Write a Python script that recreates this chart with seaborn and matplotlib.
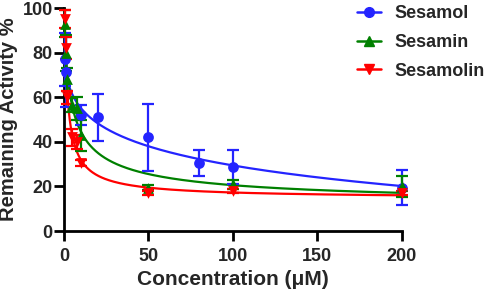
import numpy as np
import pandas as pd
import matplotlib
matplotlib.use("Agg")
import matplotlib.pyplot as plt
import seaborn as sns

# ---- data ----
sesamol_x = [0.5, 1, 10, 20, 50, 80, 100, 200]
sesamol_y = [77, 71.5, 52, 51, 42, 30.5, 28.7, 19.5]
sesamol_err = [12, 16, 4.5, 10.5, 15, 6, 7.5, 8]

sesamin_x = [0.5, 1, 2, 5, 8, 10, 50, 100, 200]
sesamin_y = [93, 80, 68, 56.5, 55, 43, 19.5, 21, 20]
sesamin_err = [6, 8, 5, 3, 5, 7, 1, 2, 4.5]

sesamolin_x = [0.5, 1, 2, 5, 7.5, 10, 50, 100, 200]
sesamolin_y = [95, 82, 60, 42, 40, 30.5, 17, 18, 17]
sesamolin_err = [4, 5, 3, 4, 3, 1.5, 1, 1, 1]

names = ["Sesamol", "Sesamin", "Sesamolin"]
colors = ["#2424ff", "#008000", "#ff0000"]
markers = ["o", "^", "v"]

xticks = [0, 50, 100, 150, 200]
yticks = [0, 20, 40, 60, 80, 100]


def fit_curve(x, y):
    x = np.asarray(x, float)
    y = np.asarray(y, float)
    best = None
    for K in np.logspace(-1, 3, 300):
        for n in np.linspace(0.3, 3, 60):
            f = 1.0 / (1.0 + (x / K) ** n)
            A = np.column_stack([1 - f, f])
            coef, *_ = np.linalg.lstsq(A, y, rcond=None)
            r = np.sum((A @ coef - y) ** 2)
            if best is None or r < best[0]:
                best = (r, K, n, coef)
    _, K, n, (B, T) = best
    xs = np.unique(np.concatenate([np.logspace(-1.3, np.log10(200), 300),
                                   np.linspace(0.05, 200, 300)]))
    f = 1.0 / (1.0 + (xs / K) ** n)
    return xs, B * (1 - f) + T * f


sns.set_style("ticks")
plt.rcParams["font.family"] = ["Liberation Sans", "DejaVu Sans"]
plt.rcParams["font.weight"] = "bold"

fig = plt.figure(figsize=(4.84, 2.91), dpi=100)
ax = fig.add_axes([0.132, 0.206, 0.698, 0.766])

series = [(sesamol_x, sesamol_y, sesamol_err),
          (sesamin_x, sesamin_y, sesamin_err),
          (sesamolin_x, sesamolin_y, sesamolin_err)]

handles = []
for (x, y, e), name, c, m in zip(series, names, colors, markers):
    xs, ys = fit_curve(x, y)
    curve = pd.DataFrame({"x": xs, "y": ys})
    sns.lineplot(data=curve, x="x", y="y", ax=ax, color=c, lw=1.6,
                 legend=False, zorder=2)
    ax.errorbar(x, y, yerr=e, fmt="none", ecolor=c, elinewidth=1.6,
                capsize=4, capthick=1.6, zorder=3, clip_on=False)
    df = pd.DataFrame({"x": x, "y": y})
    sns.scatterplot(data=df, x="x", y="y", ax=ax, color=c, marker=m,
                    s=60, edgecolor=c, linewidth=0, zorder=4, clip_on=False,
                    legend=False)
    h, = ax.plot([], [], color=c, marker=m, lw=1.8, ms=7, label=name)
    handles.append(h)

ax.set_xlim(0, 200)
ax.set_ylim(0, 100)
ax.set_xticks(xticks)
ax.set_yticks(yticks)
ax.set_xticklabels([str(t) for t in xticks], fontsize=13, fontweight="bold")
ax.set_yticklabels([str(t) for t in yticks], fontsize=13, fontweight="bold")
ax.set_xlabel("Concentration (μM)", fontsize=15, fontweight="bold", labelpad=4)
ax.set_ylabel("Remaining Activity %", fontsize=14.5, fontweight="bold", labelpad=3)
for s in ["top", "right"]:
    ax.spines[s].set_visible(False)
for s in ["left", "bottom"]:
    ax.spines[s].set_linewidth(2)
    ax.spines[s].set_color("black")
ax.tick_params(width=2, length=7, color="black")
ax.tick_params(axis="x", pad=5)
ax.tick_params(axis="y", pad=1)

leg = fig.legend(handles=handles, loc="upper left", bbox_to_anchor=(0.737, 0.982),
                 frameon=False, fontsize=13, labelspacing=0.65, handlelength=1.35,
                 handletextpad=0.75, borderpad=0, borderaxespad=0)
for t in leg.get_texts():
    t.set_fontweight("bold")

fig.savefig("out.png", dpi=100)
